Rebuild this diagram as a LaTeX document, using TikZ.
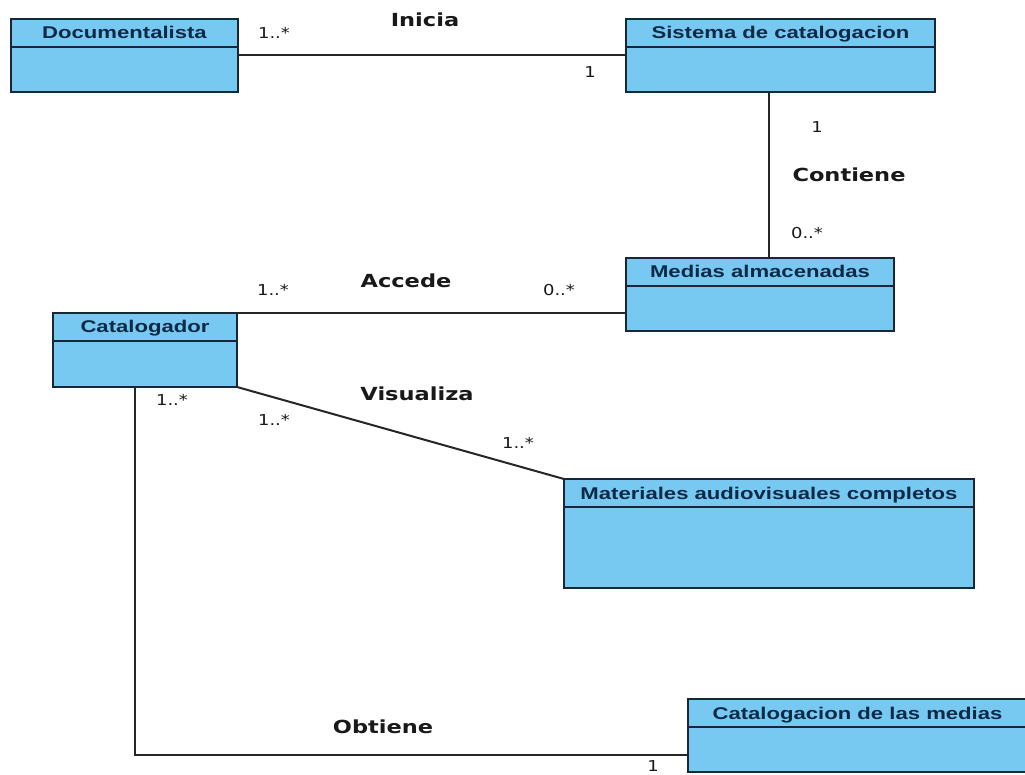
\documentclass[tikz,border=0pt]{standalone}
\usepackage{fontspec}
\usepackage{graphicx}
\setmainfont{Liberation Sans}
\newfontfamily\labelfont{DejaVu Sans}

\definecolor{classfill}{RGB}{120,201,241}
\definecolor{classedge}{RGB}{26,38,54}
\definecolor{classtext}{RGB}{12,42,72}
\definecolor{linkcol}{RGB}{38,38,38}
\definecolor{labelcol}{RGB}{25,25,25}

% class titles, association names and multiplicities
\newcommand{\cname}[1]{\scalebox{1.3}[1]{\fontsize{17}{20}\selectfont\bfseries #1}}
\newcommand{\rolename}[1]{\scalebox{1.25}[1]{\labelfont\fontsize{18}{21}\selectfont\bfseries #1}}
\newcommand{\mult}[1]{\scalebox{1.2}[1]{\labelfont\fontsize{15}{18}\selectfont #1}}

\tikzset{
  classbox/.style={draw=classedge, line width=2.2pt, fill=classfill,
    inner sep=0pt, outer sep=0pt, anchor=north west},
  header/.style={draw=classedge, line width=2pt},
  link/.style={draw=linkcol, line width=2pt},
  title/.style={text=classtext, inner sep=0pt, anchor=base},
  role/.style={text=labelcol, inner sep=0pt, anchor=base, yshift=-6.5pt},
  multi/.style={text=labelcol, inner sep=0pt, anchor=base, yshift=-5.5pt},
}

% UML class: name, x, y, width, height, title
\newcommand{\umlclass}[6]{%
  \node[classbox, minimum width=#4pt, minimum height=#5pt] (#1) at (#2,#3) {};
  \draw[header] ([yshift=-28pt]#1.north west) -- ([yshift=-28pt]#1.north east);
  \node[title] (#1-title) at ([yshift=-20pt]#1.north) {\cname{#6}};
}

\begin{document}
\begin{tikzpicture}[x=1pt,y=-1pt]
\useasboundingbox[fill=white] (0,0) rectangle (1025,775);

\umlclass{doc}{11}{19}{227}{73}{Documentalista}
\umlclass{sis}{626}{19}{309}{73}{Sistema de catalogacion}
\umlclass{med}{626}{258}{268}{73}{Medias almacenadas}
\umlclass{cat}{53}{313}{184}{74}{Catalogador}
\umlclass{mat}{564}{479}{410}{109}{Materiales audiovisuales completos}
\umlclass{cdm}{688}{699}{339}{73}{Catalogacion de las medias}

% associations
\draw[link] (doc.east) -- (sis.west);
\draw[link] ([xshift=-11.5pt]sis.south) -- ([xshift=-11.5pt]sis.south |- med.north);
\draw[link] (cat.north east) -- (cat.north east -| med.west);
\draw[link] (cat.south east) -- (mat.north west);
\draw[link] ([xshift=-10pt]cat.south) |- ([yshift=-19.5pt]cdm.west);

% association names
\node[role] (r-inicia)   at (425,20)  {\rolename{Inicia}};
\node[role] (r-contiene) at (849,175) {\rolename{Contiene}};
\node[role] (r-accede)   at (406,281) {\rolename{Accede}};
\node[role] (r-visual)   at (417,394) {\rolename{Visualiza}};
\node[role] (r-obtiene)  at (383,727) {\rolename{Obtiene}};

% multiplicities
\node[multi] (m1)  at (274,33)  {\mult{1..*}};
\node[multi] (m2)  at (590,72)  {\mult{1}};
\node[multi] (m3)  at (817,127) {\mult{1}};
\node[multi] (m4)  at (807,233) {\mult{0..*}};
\node[multi] (m5)  at (273,290) {\mult{1..*}};
\node[multi] (m6)  at (559,290) {\mult{0..*}};
\node[multi] (m7)  at (172,400) {\mult{1..*}};
\node[multi] (m8)  at (274,420) {\mult{1..*}};
\node[multi] (m9)  at (518,443) {\mult{1..*}};
\node[multi] (m10) at (653,766) {\mult{1}};
\end{tikzpicture}
\end{document}
